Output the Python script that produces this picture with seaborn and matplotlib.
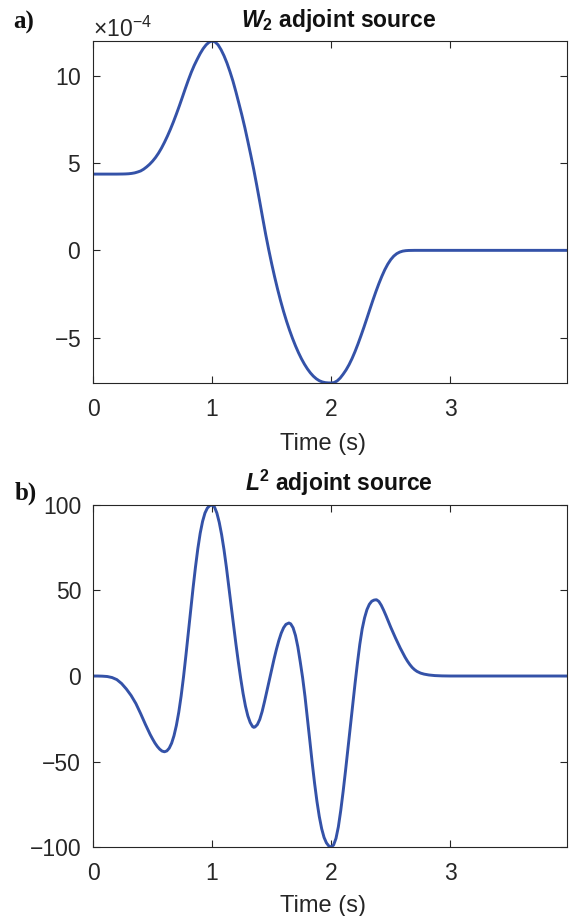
import matplotlib
matplotlib.use("Agg")
import matplotlib.pyplot as plt
from matplotlib.ticker import ScalarFormatter
import numpy as np
import pandas as pd
import seaborn as sns

# --- W2 adjoint source (values in units of 1e-4) ---
t_w2 = [0.00, 0.10, 0.20, 0.25, 0.275, 0.30, 0.325, 0.35, 0.375, 0.40, 0.425,
        0.45, 0.475, 0.50, 0.525, 0.55, 0.575, 0.60, 0.625, 0.65, 0.675,
        0.70, 0.725, 0.75, 0.775, 0.80, 0.825, 0.85, 0.875, 0.90, 0.925,
        0.95, 0.975, 1.00, 1.025, 1.05, 1.075, 1.10, 1.125, 1.15, 1.175,
        1.20, 1.225, 1.25, 1.275, 1.30, 1.325, 1.35, 1.375, 1.40, 1.425,
        1.45, 1.475, 1.50, 1.525, 1.55, 1.575, 1.60, 1.625, 1.65, 1.675,
        1.70, 1.725, 1.75, 1.775, 1.80, 1.825, 1.85, 1.875, 1.90, 1.925,
        1.95, 1.975, 2.00, 2.025, 2.05, 2.075, 2.10, 2.125, 2.15, 2.175,
        2.20, 2.225, 2.25, 2.275, 2.30, 2.325, 2.35, 2.375, 2.40, 2.425,
        2.45, 2.475, 2.50, 2.525, 2.55, 2.575, 2.60, 2.625, 2.65, 2.70,
        3.00, 3.50, 3.98]
w2_adj = [4.37, 4.37, 4.37, 4.375, 4.38, 4.39, 4.41, 4.44, 4.49, 4.55, 4.65,
          4.78, 4.93, 5.11, 5.32, 5.57, 5.86, 6.19, 6.55, 6.94, 7.36,
          7.81, 8.28, 8.77, 9.27, 9.75, 10.20, 10.60, 10.95, 11.28, 11.56,
          11.78, 11.93, 12.00, 11.94, 11.78, 11.50, 11.15, 10.73, 10.24, 9.70,
          9.08, 8.42, 7.75, 7.03, 6.25, 5.45, 4.62, 3.72, 2.79, 1.84,
          0.91, 0.05, -0.76, -1.52, -2.23, -2.89, -3.50, -4.06, -4.57, -5.04,
          -5.47, -5.86, -6.21, -6.52, -6.79, -7.02, -7.21, -7.36, -7.47, -7.54,
          -7.58, -7.595, -7.60, -7.575, -7.48, -7.32, -7.10, -6.85, -6.55, -6.20,
          -5.80, -5.36, -4.89, -4.40, -3.89, -3.37, -2.86, -2.37, -1.91, -1.49,
          -1.11, -0.79, -0.53, -0.33, -0.19, -0.10, -0.045, -0.018, -0.006, 0.0,
          0.0, 0.0, 0.0]
w2_scale = 1e-4

# --- L2 adjoint source ---
t_l2 = [0.00, 0.04, 0.08, 0.12, 0.16, 0.20, 0.24, 0.28, 0.32, 0.36, 0.40,
        0.42, 0.44, 0.46, 0.48, 0.50, 0.52, 0.54, 0.56, 0.58, 0.60,
        0.62, 0.64, 0.66, 0.68, 0.70, 0.72, 0.74, 0.76, 0.78, 0.80,
        0.82, 0.84, 0.86, 0.88, 0.90, 0.92, 0.94, 0.96, 0.98, 1.00,
        1.02, 1.04, 1.06, 1.08, 1.10, 1.12, 1.14, 1.16, 1.18, 1.20,
        1.22, 1.24, 1.26, 1.28, 1.30, 1.32, 1.34, 1.35, 1.36, 1.38,
        1.40, 1.42, 1.44, 1.46, 1.48, 1.50, 1.52, 1.54, 1.56, 1.58,
        1.60, 1.62, 1.645, 1.66, 1.68, 1.70, 1.72, 1.74, 1.76, 1.78,
        1.80, 1.82, 1.84, 1.86, 1.88, 1.90, 1.92, 1.94, 1.96, 1.98,
        2.00, 2.02, 2.04, 2.06, 2.08, 2.10, 2.12, 2.14, 2.16, 2.18,
        2.20, 2.22, 2.24, 2.26, 2.28, 2.30, 2.32, 2.34, 2.36, 2.38,
        2.40, 2.42, 2.44, 2.46, 2.48, 2.50, 2.52, 2.54, 2.56, 2.58,
        2.60, 2.62, 2.64, 2.66, 2.68, 2.70, 2.72, 2.75, 2.78, 2.82,
        2.87, 2.93, 3.00, 3.50, 3.98]
l2_adj = [0.0, 0.0, -0.1, -0.3, -0.9, -2.1, -4.4, -7.6, -11.4, -16.1, -22.0,
          -25.2, -28.3, -31.3, -34.2, -36.8, -39.2, -41.2, -42.8, -43.9, -44.3,
          -43.8, -42.2, -39.3, -34.9, -28.9, -21.2, -11.7, -0.5, 12.0, 25.2,
          38.5, 51.4, 63.5, 74.4, 83.5, 90.4, 95.3, 98.2, 99.6, 100.0,
          98.8, 95.3, 89.8, 82.6, 73.8, 63.6, 52.5, 41.0, 29.7, 18.7,
          8.3, -1.4, -10.2, -17.6, -23.3, -27.2, -29.6, -30.0, -29.8, -28.4,
          -25.4, -20.8, -15.0, -8.7, -2.3, 3.9, 9.9, 15.6, 20.7, 25.0,
          28.2, 30.2, 31.0, 30.5, 28.2, 23.7, 17.0, 8.3, -1.0, -12.0,
          -24.5, -37.5, -50.5, -62.5, -73.2, -82.2, -89.3, -94.4, -97.6, -99.4,
          -100.0, -98.8, -95.0, -88.2, -78.7, -67.6, -55.5, -42.6, -29.4, -16.5,
          -4.5, 7.5, 18.5, 27.5, 34.0, 38.8, 41.9, 43.7, 44.4, 44.6,
          43.6, 41.4, 38.5, 35.3, 31.9, 28.5, 25.3, 22.2, 19.2, 16.3,
          13.6, 11.0, 8.7, 6.7, 5.0, 3.7, 2.7, 1.7, 1.1, 0.6,
          0.25, 0.07, 0.0, 0.0, 0.0]

x_ticks = [0, 1, 2, 3]
w2_yticks = [-5, 0, 5, 10]
l2_yticks = [-100, -50, 0, 50, 100]

sns.set_style("ticks")
plt.rcParams["font.family"] = ["Liberation Sans", "DejaVu Sans"]
plt.rcParams["mathtext.fontset"] = "custom"
plt.rcParams["mathtext.rm"] = "Liberation Sans"
plt.rcParams["mathtext.it"] = "Liberation Sans:italic"
plt.rcParams["mathtext.bf"] = "Liberation Sans:bold"
plt.rcParams["mathtext.bfit"] = "Liberation Sans:italic:bold"

ink = "#262626"
line_color = "#3452a8"
fs = 16.5

fig = plt.figure(figsize=(5.72, 9.16), dpi=100)
ax1 = fig.add_axes([0.1626, 0.5819, 0.8287, 0.3734])
ax2 = fig.add_axes([0.1626, 0.0753, 0.8287, 0.3734])

df_w2 = pd.DataFrame({"t": t_w2, "v": np.array(w2_adj) * w2_scale})
df_l2 = pd.DataFrame({"t": t_l2, "v": l2_adj})

sns.lineplot(data=df_w2, x="t", y="v", ax=ax1, color=line_color, linewidth=2.1, sort=False)
sns.lineplot(data=df_l2, x="t", y="v", ax=ax2, color=line_color, linewidth=2.1, sort=False)

ax1.set_ylim(-7.6 * w2_scale, 12.0 * w2_scale)
ax1.set_yticks(np.array(w2_yticks) * w2_scale)
fmt = ScalarFormatter(useMathText=True)
fmt.set_powerlimits((-4, -4))
ax1.yaxis.set_major_formatter(fmt)
ax1.yaxis.get_offset_text().set_fontsize(fs)
ax1.yaxis.get_offset_text().set_color(ink)

ax2.set_ylim(-100, 100)
ax2.set_yticks(l2_yticks)

for ax, ly in ((ax1, -0.147), (ax2, -0.140)):
    ax.set_xlim(0, 3.98)
    ax.set_xticks(x_ticks)
    ax.set_xlabel("Time (s)", fontsize=17, color=ink)
    ax.xaxis.set_label_coords(0.485, ly)
    ax.set_ylabel("")
    ax.tick_params(direction="in", top=True, right=True, length=5, width=0.8,
                   labelsize=fs, colors=ink)
    ax.tick_params(axis="x", pad=10.5)
    ax.tick_params(axis="y", pad=8.5)
    for sp in ax.spines.values():
        sp.set_visible(True)
        sp.set_color(ink)
        sp.set_linewidth(0.8)

ax1.text(0.519, 1.041, r"$\mathbfit{W}_\mathbf{2}$ adjoint source", transform=ax1.transAxes,
         ha="center", va="baseline", fontsize=16.5, fontweight="bold", color="#111111")
ax2.text(0.519, 1.041, r"$\mathbfit{L}^\mathbf{2}$ adjoint source", transform=ax2.transAxes,
         ha="center", va="baseline", fontsize=16.5, fontweight="bold", color="#111111")

fig.text(13 / 572, 1 - 29 / 916, "a)", family="Liberation Serif", fontweight="bold",
         fontsize=18, va="baseline", color="#111111")
fig.text(15 / 572, 1 - 500 / 916, "b)", family="Liberation Serif", fontweight="bold",
         fontsize=18, va="baseline", color="#111111")

fig.savefig("out.png", dpi=100)
